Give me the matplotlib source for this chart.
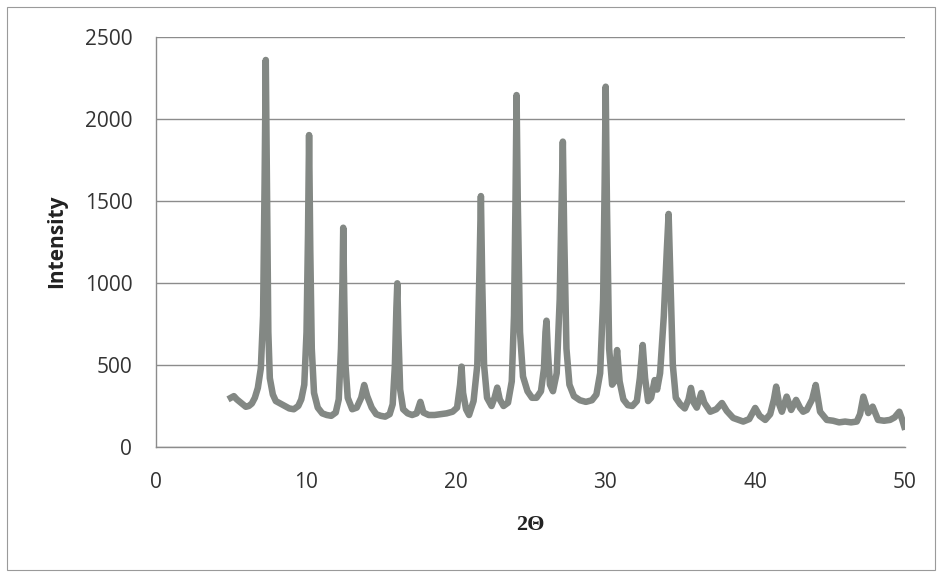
import matplotlib.pyplot as plt
from matplotlib.patches import Rectangle

# diffractogram read point by point (2theta in degrees, counts)
two_theta = [
    5.0, 5.2, 5.4, 5.6, 5.8, 6.0, 6.2, 6.4, 6.6, 6.8, 7.0, 7.15, 7.25, 7.33, 7.42, 7.5, 7.6, 7.8,
    8.0, 8.3, 8.6, 8.9, 9.2, 9.5, 9.7, 9.9, 10.05, 10.15, 10.22, 10.3, 10.4, 10.55, 10.8,
    11.1, 11.4, 11.7, 12.0, 12.2, 12.35, 12.45, 12.5, 12.57, 12.65, 12.8, 13.1, 13.4, 13.7,
    13.9, 14.1, 14.4, 14.7, 15.0, 15.3, 15.6, 15.8, 15.95, 16.05, 16.11, 16.18, 16.3, 16.5,
    16.8, 17.1, 17.4, 17.65, 17.85, 18.2, 18.6, 19.0, 19.4, 19.8, 20.1, 20.3, 20.4, 20.5,
    20.7, 20.9, 21.2, 21.45, 21.6, 21.69, 21.78, 21.9, 22.1, 22.4, 22.6, 22.78, 22.95, 23.2,
    23.5, 23.75, 23.9, 24.0, 24.07, 24.15, 24.3, 24.5, 24.8, 25.1, 25.4, 25.7, 25.9, 26.0,
    26.07, 26.15, 26.3, 26.5, 26.75, 26.95, 27.08, 27.16, 27.25, 27.4, 27.6, 27.9, 28.3,
    28.7, 29.1, 29.4, 29.65, 29.85, 29.95, 30.02, 30.1, 30.25, 30.45, 30.6, 30.78, 30.95,
    31.2, 31.5, 31.8, 32.1, 32.3, 32.49, 32.65, 32.85, 33.05, 33.29, 33.45, 33.65, 33.9,
    34.1, 34.22, 34.35, 34.5, 34.7, 35.0, 35.3, 35.55, 35.71, 35.9, 36.1, 36.4, 36.6,
    37.0, 37.4, 37.78, 38.1, 38.53, 38.9, 39.2, 39.6, 40.0, 40.3, 40.67, 41.0, 41.25, 41.4,
    41.6, 41.78, 42.1, 42.4, 42.73, 43.0, 43.2, 43.44, 43.8, 44.04, 44.33, 44.78, 45.2,
    45.6, 46.0, 46.4, 46.78, 47.0, 47.22, 47.55, 47.84, 48.2, 48.6, 49.0, 49.3, 49.62,
    49.8, 49.95,
]
intensity = [
    300, 310, 290, 275, 260, 245, 250, 265, 300, 360, 480, 800, 1600, 2360, 1500, 700, 420, 320,
    280, 265, 250, 235, 230, 250, 290, 380, 700, 1300, 1902, 1200, 600, 330, 240,
    205, 195, 190, 210, 290, 600, 1000, 1337, 900, 500, 300, 230, 240, 300,
    378, 310, 240, 200, 190, 185, 200, 260, 500, 850, 998, 700, 350, 230,
    205, 195, 205, 275, 210, 195, 195, 200, 205, 215, 240, 380, 490, 330,
    230, 195, 280, 500, 1100, 1530, 1000, 500, 300, 250, 300, 362, 290, 250,
    270, 400, 800, 1500, 2146, 1500, 700, 430, 340, 300, 300, 340, 480, 700,
    770, 600, 380, 340, 450, 900, 1500, 1862, 1300, 600, 380, 310, 285,
    275, 285, 320, 450, 900, 1600, 2197, 1500, 600, 380, 400, 591, 400,
    290, 255, 250, 280, 420, 622, 420, 280, 300, 408, 350, 450, 800,
    1200, 1421, 1000, 500, 300, 260, 235, 290, 360, 270, 240, 329, 270,
    215, 230, 268, 220, 177, 165, 155, 170, 238, 190, 165, 200, 290, 368,
    260, 215, 307, 226, 287, 238, 215, 226, 290, 378, 215, 165, 160,
    150, 155, 150, 155, 200, 307, 207, 246, 165, 160, 165, 180, 215,
    170, 124,
]

x_ticks = [0, 10, 20, 30, 40, 50]
y_ticks = [0, 500, 1000, 1500, 2000, 2500]

plt.rcParams['font.family'] = ['Open Sans', 'DejaVu Sans']

fig = plt.figure(figsize=(9.39, 5.74), dpi=100)
ax = fig.add_axes([0.1661, 0.2213, 0.7977, 0.7142])

ax.plot(two_theta, intensity, color='#838884', linewidth=4.7, solid_joinstyle='round')

ax.set_xlim(0, 50)
ax.set_ylim(0, 2500)
ax.set_xticks(x_ticks)
ax.set_yticks(y_ticks)
ax.tick_params(axis='both', length=0, labelsize=15, labelcolor='#333333')
ax.tick_params(axis='x', pad=18)
ax.tick_params(axis='y', pad=17)

ax.yaxis.grid(True, color='#8c8c8c', linewidth=1.0)
ax.set_axisbelow(True)
for side in ['top', 'right']:
    ax.spines[side].set_visible(False)
for side in ['left', 'bottom']:
    ax.spines[side].set_color('#8c8c8c')
    ax.spines[side].set_linewidth(1.0)

fig.text(57 / 939, 1 - 241 / 574, 'Intensity', rotation=90, ha='center', va='center',
         fontsize=15, fontweight='bold', color='#222222')
fig.text(530 / 939, 1 - 525 / 574, '2Θ', ha='center', va='center',
         fontsize=16, fontweight='bold', color='#222222', family='Liberation Serif')

# chart area border
fig.patches.append(Rectangle((7 / 939, 4 / 574), 928 / 939, 563 / 574, transform=fig.transFigure,
                             fill=False, edgecolor='#9a9a9a', linewidth=0.8))

fig.savefig('out.png', dpi=100)
